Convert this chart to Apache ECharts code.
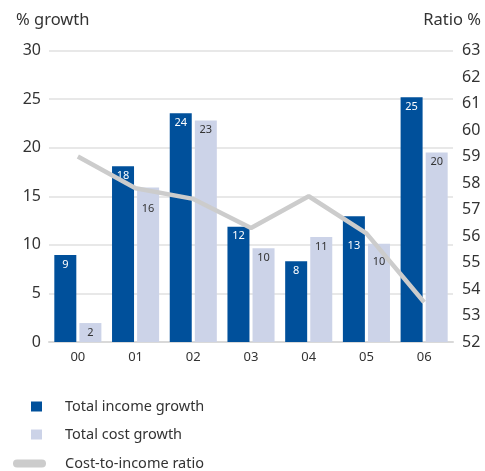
<!DOCTYPE html>
<html><head><meta charset="utf-8">
<script src="https://cdn.jsdelivr.net/npm/echarts@6/dist/echarts.min.js"></script>
<style>html,body{margin:0;padding:0;background:#fff}#c{width:485px;height:471px}</style>
</head><body><div id="c"></div>
<script>
var categories = ['00','01','02','03','04','05','06'];
var incomeGrowth = [8.95, 18.1, 23.55, 11.85, 8.3, 12.95, 25.2];
var costGrowth = [1.95, 15.9, 22.8, 9.65, 10.8, 10.1, 19.5];
var costIncomeRatio = [59.0, 57.8, 57.4, 56.3, 57.5, 56.1, 53.5];
var leftTicks = {min: 0, max: 30, interval: 5};
var rightTicks = {min: 52, max: 63, interval: 1};

var FONT = '"Noto Sans", sans-serif';
// labels nudged down where the ratio line crosses them (index -> px)
var incomeLabelShift = {5: 20};
var costLabelShift = {1: 12, 5: 8};

function items(values, shifts){
  return values.map(function(v, i){
    var d = {value: v};
    if (shifts[i]) d.label = {offset: [0, shifts[i]]};
    return d;
  });
}
function lbl(color){
  return {show:true, position:'insideTop', distance:4, fontSize:11, fontFamily:FONT, color:color,
    formatter:function(p){return Math.round(p.value);}};
}
var chart = echarts.init(document.getElementById('c'));
chart.setOption({
  animation:false,
  grid:{left:49, right:32, top:50.5, bottom:129},
  xAxis:{type:'category', data:categories,
    axisLine:{show:true, lineStyle:{color:'#d9d9d9', width:2}}, axisTick:{show:false},
    axisLabel:{fontSize:13, color:'#333', fontFamily:FONT, margin:9}},
  yAxis:[
    {type:'value', min:leftTicks.min, max:leftTicks.max, interval:leftTicks.interval, position:'left',
     name:'% growth', nameLocation:'end', nameGap:0,
     nameTextStyle:{fontSize:16.5, color:'#333', fontFamily:FONT, align:'left', verticalAlign:'bottom', padding:[0,0,22,-33]},
     axisLine:{show:false}, axisTick:{show:false},
     axisLabel:{fontSize:16, color:'#333', fontFamily:FONT, margin:8},
     splitLine:{lineStyle:{color:'#e0e0e0', width:1.5}}},
    {type:'value', min:rightTicks.min, max:rightTicks.max, interval:rightTicks.interval, position:'right',
     name:'Ratio %', nameLocation:'end', nameGap:0,
     nameTextStyle:{fontSize:16.5, color:'#333', fontFamily:FONT, align:'right', verticalAlign:'bottom', padding:[0,-28,22,0]},
     axisLine:{show:false}, axisTick:{show:false},
     axisLabel:{fontSize:16, color:'#333', fontFamily:FONT, margin:9},
     splitLine:{show:false}}
  ],
  legend:[
    {data:['Total income growth'], orient:'vertical', left:31, top:399, padding:0, itemWidth:11, itemHeight:10, icon:'rect',
     textStyle:{fontSize:14.5, color:'#333', fontFamily:FONT, padding:[0,0,0,18]}},
    {data:['Total cost growth'], orient:'vertical', left:31, top:427, padding:0, itemWidth:11, itemHeight:10, icon:'rect',
     textStyle:{fontSize:14.5, color:'#333', fontFamily:FONT, padding:[0,0,0,18]}},
    {data:['Cost-to-income ratio'], orient:'vertical', left:13, top:456, padding:0, itemWidth:33, itemHeight:8,
     icon:'path://M4,0 L29,0 A4,4 0 0 1 29,8 L4,8 A4,4 0 0 1 4,0 Z',
     textStyle:{fontSize:14.5, color:'#333', fontFamily:FONT, padding:[0,0,0,14]}}
  ],
  series:[
    {name:'Total income growth', type:'bar', data:items(incomeGrowth, incomeLabelShift), barWidth:22, barGap:'14%',
     itemStyle:{color:'#00509b'}, label:lbl('#ffffff')},
    {name:'Total cost growth', type:'bar', data:items(costGrowth, costLabelShift), barWidth:22,
     itemStyle:{color:'#ccd3e8'}, label:lbl('#333333')},
    {name:'Cost-to-income ratio', type:'line', yAxisIndex:1, data:costIncomeRatio,
     symbol:'none', lineStyle:{color:'#cccccc', width:4.5}, itemStyle:{color:'#cccccc'}, z:5}
  ]
});
</script></body></html>
